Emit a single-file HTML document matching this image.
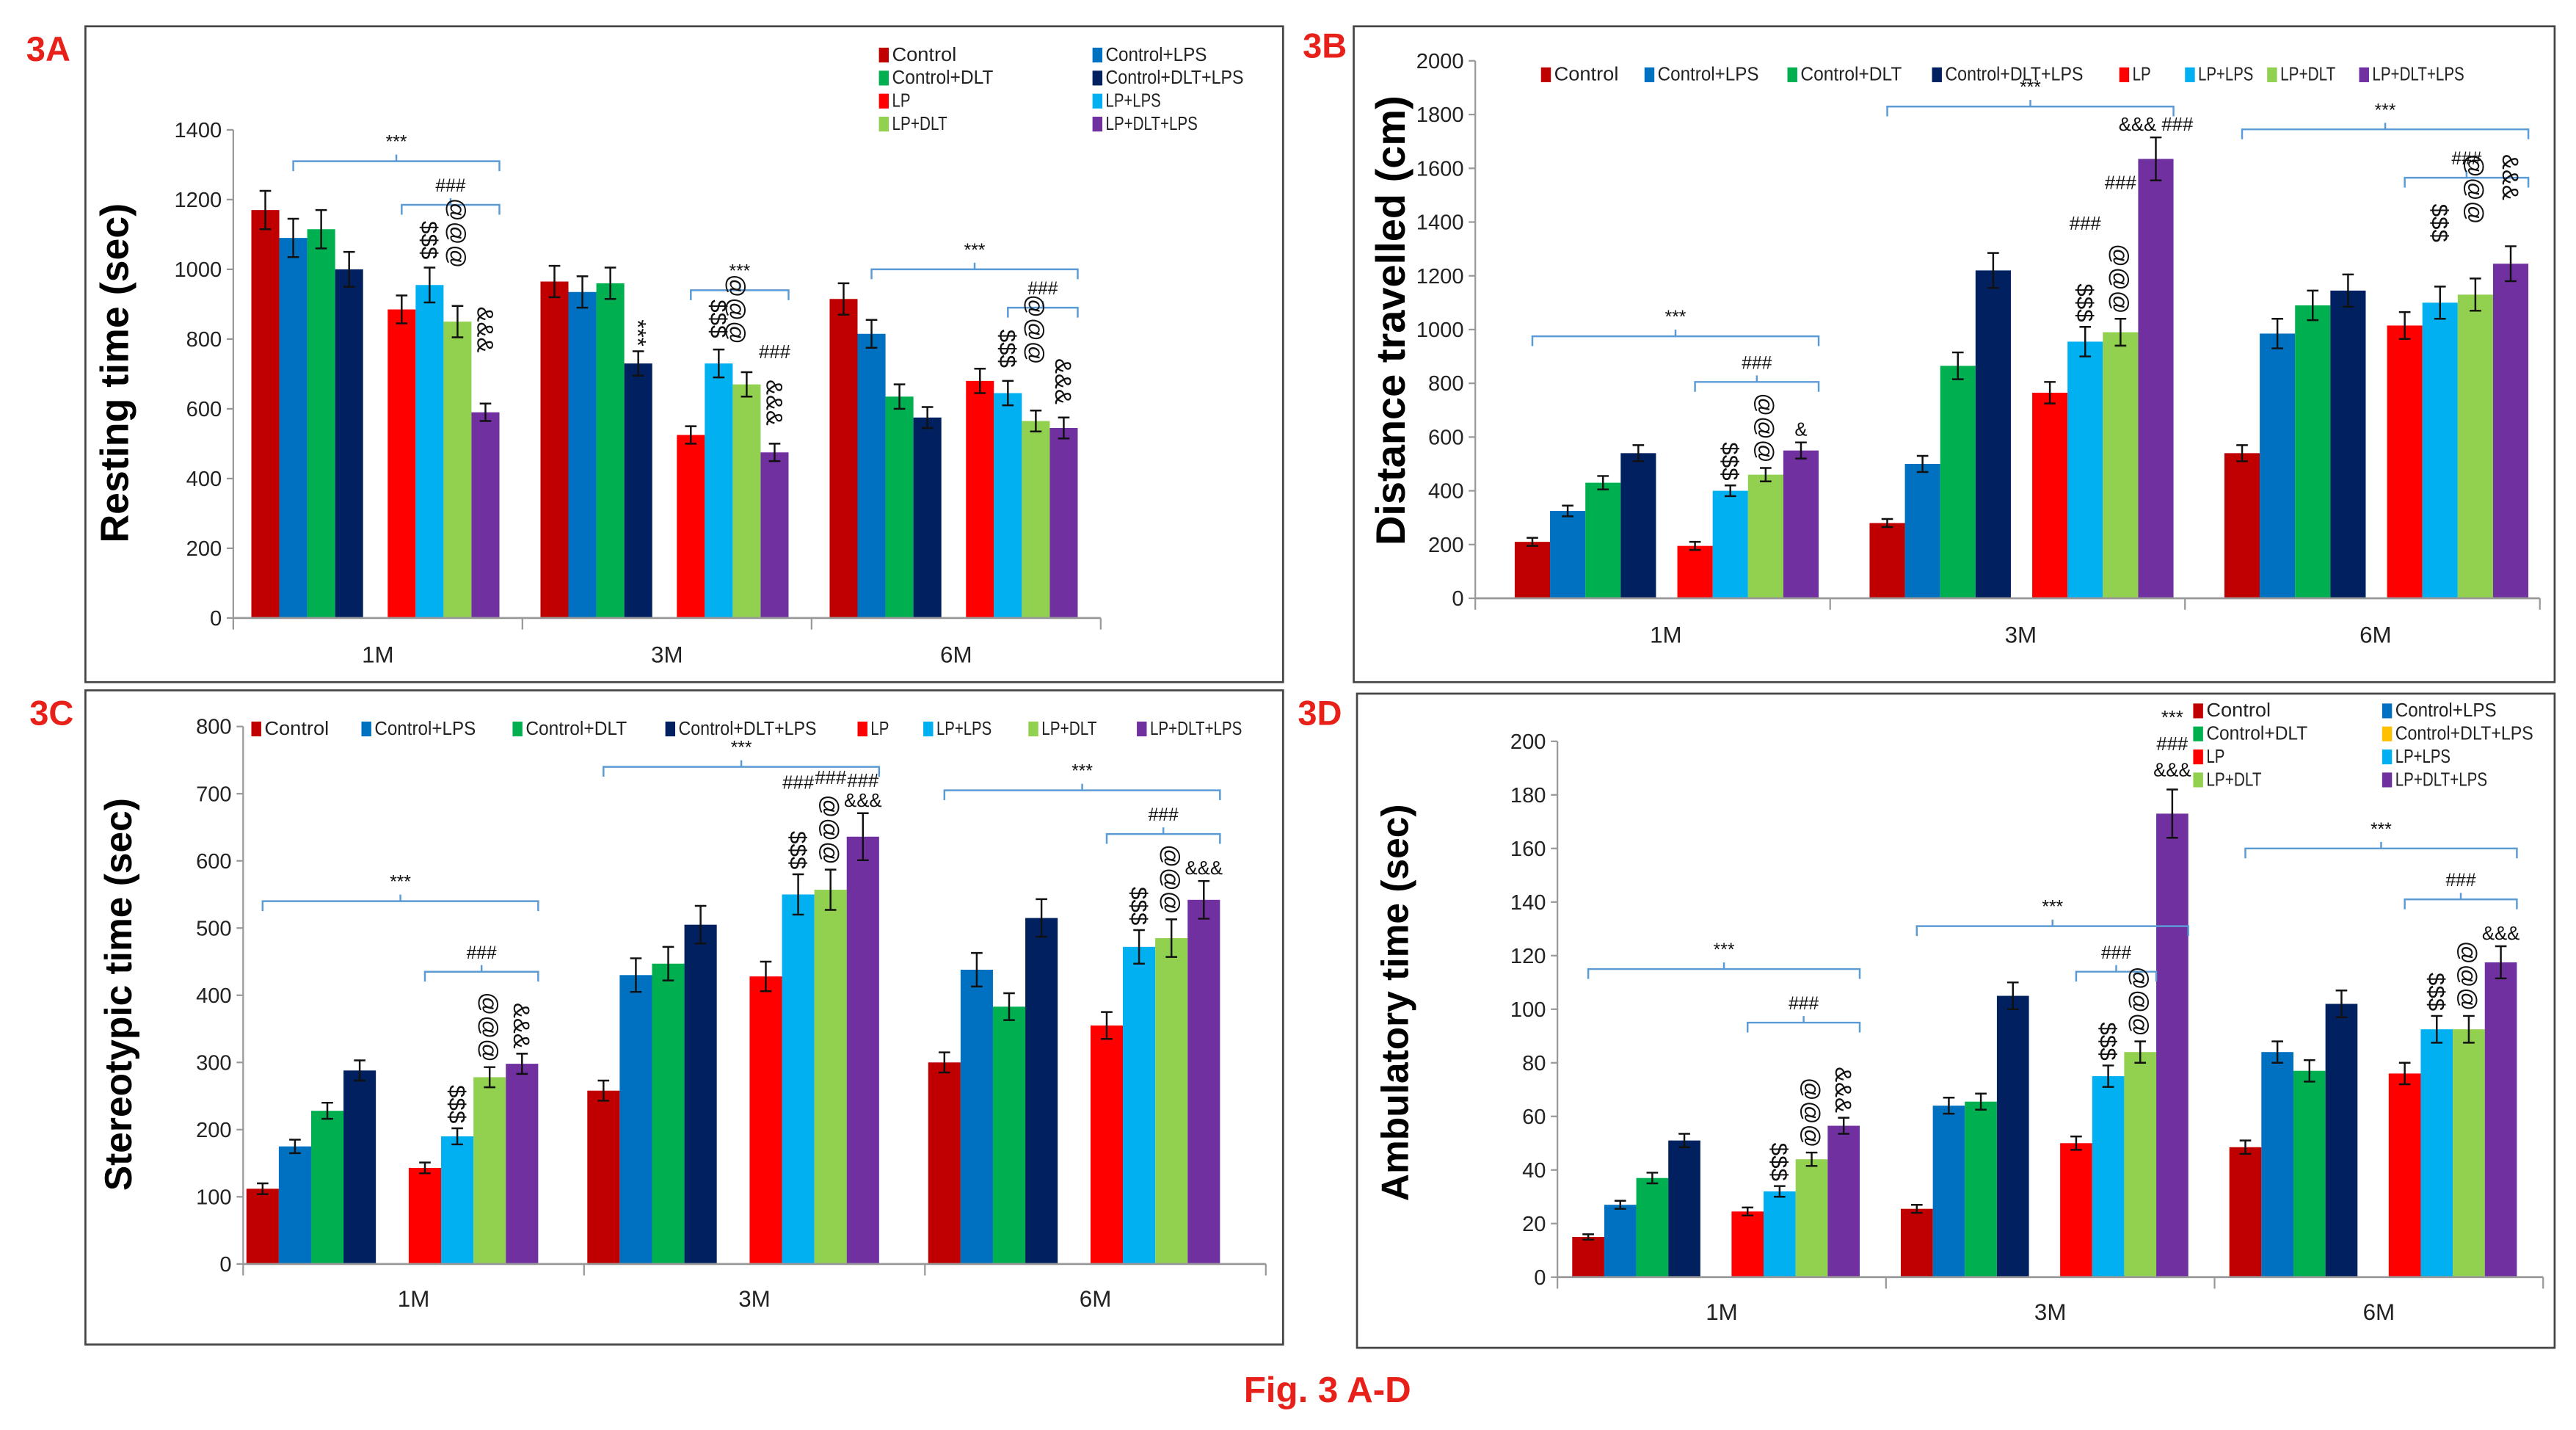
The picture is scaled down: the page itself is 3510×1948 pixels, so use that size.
<!DOCTYPE html>
<html><head><meta charset="utf-8">
<style>
html,body{margin:0;padding:0;background:#fff;}
svg{display:block;font-family:"Liberation Sans",sans-serif;}
</style></head>
<body>
<svg id="fig" width="3510" height="1948" viewBox="0 0 1568 870" preserveAspectRatio="none" xmlns="http://www.w3.org/2000/svg">
<text x="808" y="853" text-anchor="middle" font-size="22" font-weight="bold" fill="#e8201a">Fig. 3 A-D</text>
</svg>
<script>
const seriesNames = ["Control","Control+LPS","Control+DLT","Control+DLT+LPS","LP","LP+LPS","LP+DLT","LP+DLT+LPS"];
const categories = ["1M","3M","6M"];
const colors = ["#C00000","#0070C0","#00B050","#002060","#FF0000","#00B0F0","#92D050","#7030A0"];

const aVals = [[1170,1090,1115,1000,885,955,850,590],[965,935,960,730,525,730,670,475],[915,815,635,575,680,645,565,545]];
const aErr  = [[55,55,55,50,40,50,45,25],[45,45,45,35,25,40,35,25],[45,40,35,30,35,35,30,30]];
const aTicks = [0,200,400,600,800,1000,1200,1400];

const bVals = [[210,325,430,540,195,400,460,550],[280,500,865,1220,765,955,990,1635],[540,985,1090,1145,1015,1100,1130,1245]];
const bErr  = [[15,20,25,30,15,20,25,30],[15,30,50,65,40,55,50,80],[30,55,55,60,50,60,60,65]];
const bTicks = [0,200,400,600,800,1000,1200,1400,1600,1800,2000];

const cVals = [[112,175,228,288,143,190,278,298],[258,430,447,505,428,550,557,636],[300,438,383,515,355,472,485,542]];
const cErr  = [[8,10,12,15,8,12,15,15],[15,25,25,28,22,30,30,35],[15,25,20,28,20,25,28,28]];
const cTicks = [0,100,200,300,400,500,600,700,800];

const dVals = [[15,27,37,51,24.5,32,44,56.5],[25.5,64,65.5,105,50,75,84,173],[48.5,84,77,102,76,92.5,92.5,117.5]];
const dErr  = [[1,1.5,2,2.5,1.5,2,2.5,3],[1.5,3,3,5,2.5,4,4,9],[2.5,4,4,5,4,5,5,6]];
const dTicks = [0,20,40,60,80,100,120,140,160,180,200];

const NS="http://www.w3.org/2000/svg";
const svg=document.getElementById('fig');
function mk(tag,attrs,parent,txt){const e=document.createElementNS(NS,tag);for(const k in attrs)e.setAttribute(k,attrs[k]);if(txt!==undefined)e.textContent=txt;(parent||svg).appendChild(e);return e;}

function panel(cfg){
  const g=mk('g',{});
  
  
  const box=mk('rect',{x:cfg.box[0],y:cfg.box[1],width:cfg.box[2],height:cfg.box[3],fill:'#fff',stroke:'#444','stroke-width':1.2},g);
  
  
  const lab=mk('text',{x:cfg.lab[0],y:cfg.lab[1],'font-size':21,'font-weight':'bold',fill:'#e8201a'},g,cfg.label);
  
  
  const max=cfg.ticks[cfg.ticks.length-1];
  const ys=v=>cfg.y0-(v/max)*(cfg.y0-cfg.yTop);
  const xb=(gi,bi)=>cfg.x0+gi*cfg.gw+cfg.off+bi*cfg.bw+(bi>=4?cfg.gap:0);
  const xEnd=Math.min(cfg.x0+3*cfg.gw,cfg.box[0]+cfg.box[2]-1);
  mk('line',{x1:cfg.x0,y1:cfg.yTop,x2:cfg.x0,y2:cfg.y0,stroke:'#999','stroke-width':1},g);
  cfg.ticks.forEach(t=>{
    mk('line',{x1:cfg.x0-4,y1:ys(t),x2:cfg.x0,y2:ys(t),stroke:'#999'},g);
    const tl=mk('text',{x:cfg.x0-7,y:ys(t)+4.5,'font-size':13,'text-anchor':'end',fill:'#222'},g,t);
    
    
  });
  const yt=mk('text',{x:0,y:0,'font-size':cfg.tfs,'font-weight':'bold','text-anchor':'middle',fill:'#000',transform:`translate(${cfg.tx},${cfg.ty}) rotate(-90)`},g,cfg.title);
  
  
  cfg.vals.forEach((grp,gi)=>{
    grp.forEach((v,bi)=>{
      const x=xb(gi,bi);
      const r=mk('rect',{x:x,y:ys(v),width:cfg.bw,height:cfg.y0-ys(v),fill:colors[bi]},g);
      
      
      const e=cfg.err[gi][bi], cx=x+cfg.bw/2;
      const eb=mk('path',{d:`M${cx},${ys(v+e)}V${ys(v-e)}M${cx-3.5},${ys(v+e)}H${cx+3.5}M${cx-3.5},${ys(v-e)}H${cx+3.5}`,stroke:'#111','stroke-width':1.1,fill:'none'},g);
      
      
    });
  });
  mk('line',{x1:cfg.x0,y1:cfg.y0,x2:xEnd,y2:cfg.y0,stroke:'#999','stroke-width':1.2},g);
  for(let i=0;i<=3;i++){const xx=cfg.x0+i*cfg.gw; if(xx<=xEnd+1) mk('line',{x1:xx,y1:cfg.y0,x2:xx,y2:cfg.y0+7,stroke:'#999'},g);}
  categories.forEach((c,i)=>{
    const t=mk('text',{x:cfg.x0+(i+0.5)*cfg.gw+(cfg.catDx||0),y:cfg.catY,'font-size':14,'text-anchor':'middle',fill:'#222'},g,c);
    
    
  });
  cfg.legend.forEach((L,i)=>{
    const lc=cfg.legColors?cfg.legColors[i]:colors[i];
    const r=mk('rect',{x:L[0],y:L[1]-8,width:6,height:9,fill:lc},g);
    
    
    const t=mk('text',{x:L[0]+8,y:L[1],'font-size':11.5,fill:'#222',textLength:seriesNames[i].length*cfg.legK,lengthAdjust:'spacingAndGlyphs'},g,seriesNames[i]);
    
    
  });
  (cfg.brackets||[]).forEach(b=>{
    const [gi,b0,b1,val,txt]=b;
    const x1=xb(gi,b0)+cfg.bw/2, x2=xb(gi,b1)+cfg.bw, y=ys(val), m=(x1+x2)/2;
    const p=mk('path',{d:`M${x1},${y+6}V${y}H${x2}V${y+6}M${m},${y}V${y-4}`,stroke:'#5b9bd5','stroke-width':1.1,fill:'none'},g);
    
    
    const t=mk('text',{x:m,y:y-8,'font-size':11,'text-anchor':'middle',fill:'#111'},g,txt);
    
    
  });
  (cfg.rot||[]).forEach(a=>{
    const [gi,bi,txt,dx,lift]=a;
    const v=cfg.vals[gi][bi]+cfg.err[gi][bi];
    const x=xb(gi,bi)+cfg.bw/2-5+(dx||0), y=ys(v)-3-(lift||0);
    const t=mk('text',{x:0,y:0,'font-size':14,'text-anchor':'end',fill:'#111',transform:`translate(${x},${y}) rotate(90)`},g,txt);
    
    
  });
  (cfg.hor||[]).forEach(a=>{
    const [gi,bi,txt,lift]=a;
    const v=cfg.vals[gi][bi]+cfg.err[gi][bi];
    const t=mk('text',{x:xb(gi,bi)+cfg.bw/2,y:ys(v)-4-(lift||0),'font-size':11.5,'text-anchor':'middle',fill:'#111'},g,txt);
    
    
  });
}

const legA=[[535,37],[665,37],[535,51],[665,51],[535,65],[665,65],[535,79],[665,79]];
const legD=[[1335,436],[1450,436],[1335,450],[1450,450],[1335,464],[1450,464],[1335,478],[1450,478]];
function hLegend(xs,y){return xs.map(x=>[x,y]);}

panel({id:'3a',label:'3A',lab:[16,37],box:[52,16,729,399],x0:142,y0:376,yTop:79,ticks:aTicks,gw:176,off:11,bw:17,gap:15,
  vals:aVals,err:aErr,catY:403,title:'Resting time (sec)',tx:78,ty:227,tfs:24,legend:legA,legK:5.6,
  brackets:[[0,1,7,1310,'***'],[0,4,7,1185,'###'],[1,4,7,940,'***'],[2,1,7,1000,'***'],[2,5,7,890,'###']],
  rot:[[0,5,'$$$',0,2],[0,6,'@@@',0,20],[0,7,'&&&',0,28],[1,3,'***'],[1,5,'$$$',0,4],[1,6,'@@@',-6,14],[1,7,'&&&',0,8],[2,5,'$$$',0,5],[2,6,'@@@',0,25],[2,7,'&&&',0,5]],
  hor:[[1,7,'###',48]]});
panel({id:'3b',label:'3B',lab:[793,35],box:[824,16,731,399],x0:898,y0:364,yTop:37,ticks:bTicks,gw:216,off:24,bw:21.5,gap:13,catDx:8,
  vals:bVals,err:bErr,catY:391,title:'Distance travelled (cm)',tx:855,ty:195,tfs:25,legK:5.6,
  legend:hLegend([938,1001,1088,1176,1290,1330,1380,1436],49),
  brackets:[[0,0,7,975,'***'],[0,4,7,805,'###'],[1,0,7,1830,'***'],[2,0,7,1745,'***'],[2,4,7,1565,'###']],
  rot:[[0,5,'$$$'],[0,6,'@@@'],[1,5,'$$$'],[1,6,'@@@'],[2,5,'$$$',0,24],[2,6,'@@@',0,30],[2,7,'&&&',0,25]],
  hor:[[0,7,'&'],[1,5,'###',55],[1,6,'###',75],[1,7,'&&& ###']]});
panel({id:'3c',label:'3C',lab:[18,441],box:[52,420,729,398],x0:148,y0:769,yTop:442,ticks:cTicks,gw:207.5,off:2,bw:19.7,gap:20,
  vals:cVals,err:cErr,catY:795,title:'Stereotypic  time (sec)',tx:80,ty:605,tfs:23,legK:5.6,
  legend:hLegend([153,220,312,405,522,562,626,692],447),
  brackets:[[0,0,7,540,'***'],[0,4,7,435,'###'],[1,0,7,740,'***'],[2,0,7,705,'***'],[2,4,7,640,'###']],
  rot:[[0,5,'$$$'],[0,6,'@@@'],[0,7,'&&&'],[1,5,'$$$'],[1,6,'@@@'],[2,5,'$$$'],[2,6,'@@@']],
  hor:[[1,5,'###',48],[1,6,'###',48],[1,7,'&&&',0],[1,7,'###',12],[2,7,'&&&']]});
panel({id:'3d',label:'3D',lab:[790,441],box:[826,422,729,398],x0:948,y0:777,yTop:451,ticks:dTicks,gw:200,off:9,bw:19.5,gap:19,
  vals:dVals,err:dErr,catY:803,title:'Ambulatory time (sec)',tx:857,ty:610,tfs:23,legK:5.6,
  legend:legD,legColors:["#C00000","#0070C0","#00B050","#FFC000","#FF0000","#00B0F0","#92D050","#7030A0"],
  brackets:[[0,0,7,115,'***'],[0,4,7,95,'###'],[1,0,7,131,'***'],[1,4,6,114,'###'],[2,0,7,160,'***'],[2,4,7,141,'###']],
  rot:[[0,5,'$$$'],[0,6,'@@@'],[0,7,'&&&'],[1,5,'$$$'],[1,6,'@@@'],[2,5,'$$$'],[2,6,'@@@']],
  hor:[[1,7,'&&&',4],[1,7,'###',20],[1,7,'***',36],[2,7,'&&&']]});
</script>
</body></html>
